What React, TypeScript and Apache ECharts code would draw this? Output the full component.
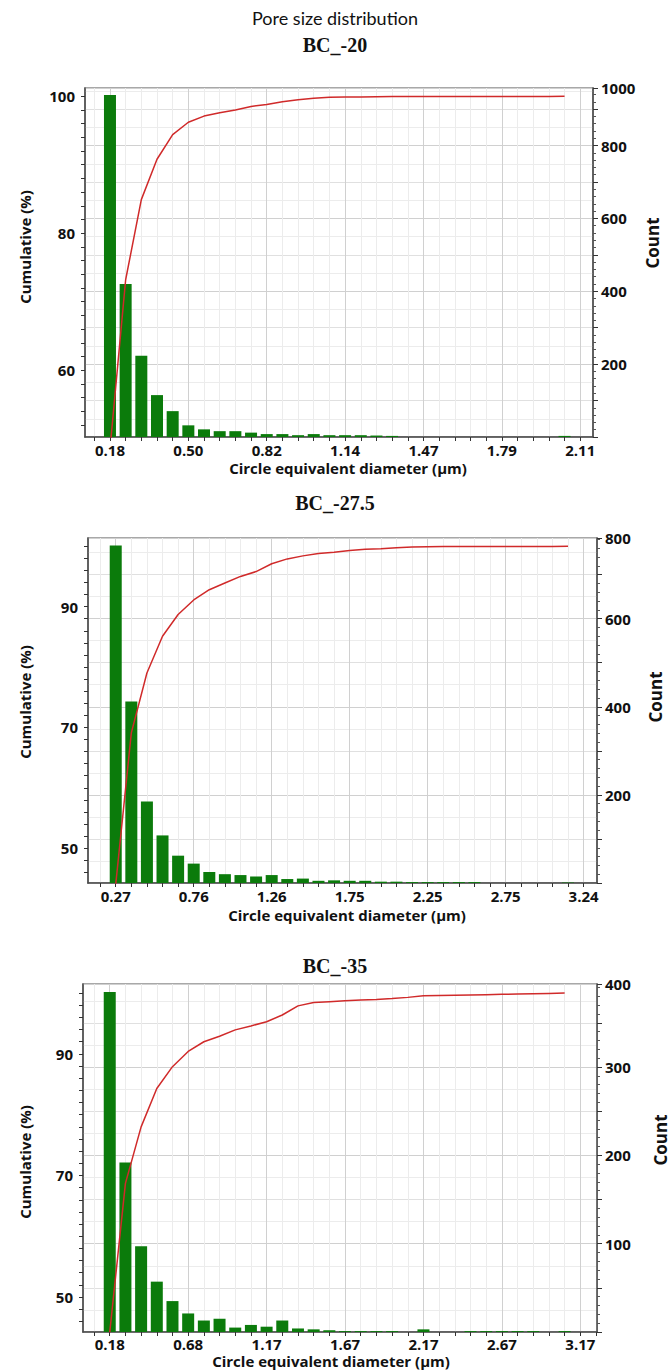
import React, { useEffect, useRef } from "react";
import * as echarts from "echarts";

const mainTitle = "Pore size distribution";
const xAxisTitle = "Circle equivalent diameter (µm)";
const leftAxisTitle = "Cumulative (%)";
const rightAxisTitle = "Count";

// ---- Panel 1: BC_-20 ----
const title1 = "BC_-20";
const xLabels1 = ["0.18", "0.50", "0.82", "1.14", "1.47", "1.79", "2.11"];
const counts1 = [939, 420, 223, 115, 71, 32, 21, 16, 16, 12, 8, 8, 5, 8, 5, 5, 5, 4, 3, 0, 0, 0, 0, 0, 0, 0, 0, 0, 0, 3];
const cumulative1 = [48.5, 73.2, 84.9, 90.8, 94.4, 96.2, 97.1, 97.6, 98.0, 98.5, 98.8, 99.2, 99.5, 99.7, 99.85, 99.88, 99.9, 99.92, 99.95, 99.95, 99.95, 99.95, 99.95, 99.95, 99.95, 99.95, 99.95, 99.95, 99.95, 100];
const leftLabels1 = [60, 80, 100];
const rightLabels1 = [200, 400, 600, 800];
const rightTop1 = "1000";

// ---- Panel 2: BC_-27.5 ----
const title2 = "BC_-27.5";
const xLabels2 = ["0.27", "0.76", "1.26", "1.75", "2.25", "2.75", "3.24"];
const counts2 = [766, 412, 185, 108, 62, 44, 25, 20, 18, 15, 18, 9, 10, 5, 6, 5, 5, 3, 3, 2, 2, 2, 2, 2, 0, 0, 0, 0, 0, 1];
const cumulative2 = [44.0, 69.1, 79.0, 85.1, 88.7, 91.1, 92.8, 93.9, 95.0, 95.8, 97.1, 97.9, 98.4, 98.8, 99.0, 99.3, 99.5, 99.6, 99.75, 99.85, 99.92, 99.95, 99.96, 99.97, 99.97, 99.97, 99.97, 99.97, 99.97, 100];
const leftLabels2 = [50, 70, 90];
const rightLabels2 = [200, 400, 600];
const rightTop2 = "800";

// ---- Panel 3: BC_-35 ----
const title3 = "BC_-35";
const xLabels3 = ["0.18", "0.68", "1.17", "1.67", "2.17", "2.67", "3.17"];
const counts3 = [385, 192, 97, 57, 35, 21, 13, 15, 5, 8, 6, 13, 4, 3, 2, 1, 1, 1, 1, 0, 3, 0, 0, 1, 1, 1, 1, 1, 0, 1];
const cumulative3 = [44.2, 68.7, 78.0, 84.3, 87.9, 90.4, 92.0, 92.9, 93.95, 94.6, 95.3, 96.4, 97.9, 98.45, 98.6, 98.75, 98.85, 98.95, 99.1, 99.3, 99.55, 99.6, 99.65, 99.7, 99.75, 99.8, 99.85, 99.9, 99.95, 100];
const leftLabels3 = [50, 70, 90];
const rightLabels3 = [100, 200, 300];
const rightTop3 = "400";

type Panel = {
  title: string;
  xLabels: string[];
  counts: number[];
  cum: number[];
  leftLabels: number[];
  rightLabels: number[];
  rightTop: string;
  grid: { left: number; top: number; width: number; height: number };
  xMin: number;
  xMax: number;
  lMin: number;
  lMax: number;
  rMax: number;
  rTick: number;
  rGrid: number;
  titleY: number;
  xLabelMargin: number;
  xNameX: number;
  xNameY: number;
  cumY: number;
  countX: number;
  countY: number;
};

const panels: Panel[] = [
  {
    title: title1, xLabels: xLabels1, counts: counts1, cum: cumulative1,
    leftLabels: leftLabels1, rightLabels: rightLabels1, rightTop: rightTop1,
    grid: { left: 85, top: 88, width: 508, height: 349 },
    xMin: 0.0775, xMax: 2.1625, lMin: 50.24, lMax: 101.2, rMax: 958, rTick: 100, rGrid: 50,
    titleY: 45, xLabelMargin: 5, xNameX: 348, xNameY: 468, cumY: 247, countX: 652, countY: 243,
  },
  {
    title: title2, xLabels: xLabels2, counts: counts2, cum: cumulative2,
    leftLabels: leftLabels2, rightLabels: rightLabels2, rightTop: rightTop2,
    grid: { left: 88, top: 538, width: 509, height: 345 },
    xMin: 0.094, xMax: 3.325, lMin: 44.24, lMax: 101.36, rMax: 783, rTick: 100, rGrid: 50,
    titleY: 503, xLabelMargin: 5, xNameX: 347, xNameY: 915, cumY: 702, countX: 655, countY: 697,
  },
  {
    title: title3, xLabels: xLabels3, counts: counts3, cum: cumulative3,
    leftLabels: leftLabels3, rightLabels: rightLabels3, rightTop: rightTop3,
    grid: { left: 83, top: 984, width: 514, height: 348 },
    xMin: 0.0101, xMax: 3.276, lMin: 44.25, lMax: 101.5, rMax: 394, rTick: 50, rGrid: 25,
    titleY: 966, xLabelMargin: 4, xNameX: 331, xNameY: 1361, cumY: 1162, countX: 660, countY: 1140,
  },
];

const FONT = "'Open Sans', 'Noto Sans', sans-serif";
const AXIS_DARK = "#4a4a4a";
const GRID_DARK = "#d0d0d0";
const GRID_LIGHT = "#ececec";

function buildOption() {
  const grids: any[] = [];
  const xAxes: any[] = [];
  const yAxes: any[] = [];
  const series: any[] = [];
  const graphics: any[] = [];

  graphics.push({
    type: "text", x: 335, y: 18,
    style: { text: mainTitle, fontSize: 18, fontFamily: "Lato, 'Noto Sans', sans-serif", fill: "#111", align: "center", verticalAlign: "middle" },
  });

  panels.forEach((p, i) => {
    const first = parseFloat(p.xLabels[0]);
    const last = parseFloat(p.xLabels[p.xLabels.length - 1]);
    const binsPerStep = 5;
    const w = (last - first) / ((p.xLabels.length - 1) * binsPerStep);
    const kMin = Math.ceil((p.xMin - first) / w - 1e-9);
    const kMax = Math.floor((p.xMax - first) / w + 1e-9);
    const tickVals: number[] = [];
    for (let k = kMin; k <= kMax; k++) tickVals.push(+(first + k * w).toFixed(6));
    const vColors: string[] = [];
    for (let j = 0; j < binsPerStep; j++) {
      vColors.push((((kMin + j) % binsPerStep) + binsPerStep) % binsPerStep === 0 ? GRID_DARK : GRID_LIGHT);
    }
    const labelVals = p.xLabels.map((_, j) => +(first + j * binsPerStep * w).toFixed(6));

    grids.push({ ...p.grid, show: true, borderColor: "#8c8c8c", borderWidth: 1.5, backgroundColor: "#ffffff" });

    xAxes.push({
      type: "value",
      gridIndex: i,
      min: p.xMin,
      max: p.xMax,
      axisLine: { show: true, onZero: false, lineStyle: { color: AXIS_DARK, width: 1.5 } },
      axisTick: { show: true, customValues: tickVals, length: 4, lineStyle: { color: "#333" } },
      axisLabel: {
        customValues: labelVals,
        formatter: (v: number) => {
          const j = Math.round((v - first) / (binsPerStep * w));
          return p.xLabels[j] ?? "";
        },
        margin: p.xLabelMargin,
        fontSize: 15,
        fontWeight: "bold",
        color: "#111",
        fontFamily: FONT,
      },
      splitLine: { show: true, lineStyle: { color: vColors, width: 1 } },
    });

    const leftTicks: number[] = [];
    for (let v = Math.ceil(p.lMin / 2) * 2; v <= p.lMax; v += 2) leftTicks.push(v);

    // left cumulative axis
    yAxes.push({
      type: "value",
      gridIndex: i,
      position: "left",
      min: p.lMin,
      max: p.lMax,
      axisLine: { show: true, lineStyle: { color: AXIS_DARK, width: 1.5 } },
      axisTick: { show: true, customValues: leftTicks, length: 4, lineStyle: { color: "#333" } },
      axisLabel: {
        customValues: p.leftLabels,
        margin: 10,
        fontSize: 15,
        fontWeight: "bold",
        color: "#111",
        fontFamily: FONT,
      },
      splitLine: { show: false },
    });

    // right count axis
    yAxes.push({
      type: "value",
      gridIndex: i,
      position: "right",
      min: 0,
      max: p.rMax,
      interval: p.rTick,
      axisLine: { show: true, lineStyle: { color: AXIS_DARK, width: 1.5 } },
      axisTick: { show: true, length: 5, lineStyle: { color: "#333" } },
      minorTick: { show: true, splitNumber: 5, length: 3, lineStyle: { color: "#555" } },
      axisLabel: {
        showMaxLabel: true,
        formatter: (v: number) => {
          if (Math.abs(v - p.rMax) < 1e-6) return p.rightTop;
          return p.rightLabels.indexOf(v) >= 0 ? String(v) : "";
        },
        margin: 8,
        fontSize: 15,
        fontWeight: "bold",
        color: "#111",
        fontFamily: FONT,
      },
      splitLine: { show: false },
    });

    // hidden axis for horizontal grid lines
    yAxes.push({
      type: "value",
      gridIndex: i,
      position: "right",
      min: 0,
      max: p.rMax,
      interval: p.rGrid,
      axisLine: { show: false },
      axisTick: { show: false },
      axisLabel: { show: false },
      splitLine: { show: true, lineStyle: { color: [GRID_DARK, GRID_LIGHT, "#e0e0e0", GRID_LIGHT], width: 1 } },
    });

    series.push({
      type: "bar",
      xAxisIndex: i,
      yAxisIndex: 3 * i + 1,
      data: p.counts.map((c, k) => [first + k * w, c]),
      barWidth: 12,
      itemStyle: { color: "#0b7b0b" },
      z: 2,
    });
    series.push({
      type: "line",
      xAxisIndex: i,
      yAxisIndex: 3 * i,
      data: p.cum.map((c, k) => [first + k * w, c]),
      symbol: "none",
      lineStyle: { color: "#d02a2a", width: 1.5 },
      clip: true,
      z: 3,
    });

    graphics.push({
      type: "text", x: 335, y: p.titleY,
      style: { text: p.title, fontSize: 20, fontWeight: "bold", fontFamily: "'Liberation Serif', 'Times New Roman', serif", fill: "#111", align: "center", verticalAlign: "middle" },
    });
    graphics.push({
      type: "text", x: p.xNameX, y: p.xNameY,
      style: { text: xAxisTitle, fontSize: 15, fontWeight: "bold", fontFamily: FONT, fill: "#111", align: "center", verticalAlign: "middle" },
    });
    graphics.push({
      type: "text", x: 25, y: p.cumY, rotation: Math.PI / 2,
      style: { text: leftAxisTitle, fontSize: 15, fontWeight: "bold", fontFamily: FONT, fill: "#111", align: "center", verticalAlign: "middle" },
    });
    graphics.push({
      type: "text", x: p.countX, y: p.countY, rotation: Math.PI / 2,
      style: { text: rightAxisTitle, fontSize: 17, fontWeight: "bold", fontFamily: FONT, fill: "#111", align: "center", verticalAlign: "middle" },
    });
  });

  return {
    animation: false,
    backgroundColor: "#ffffff",
    grid: grids,
    xAxis: xAxes,
    yAxis: yAxes,
    series,
    graphic: graphics,
  };
}

export default function App() {
  const ref = useRef<HTMLDivElement>(null);
  useEffect(() => {
    document.body.style.margin = "0";
    if (!ref.current) return;
    const chart = echarts.init(ref.current, undefined, { renderer: "svg" });
    chart.setOption(buildOption() as any);
    return () => chart.dispose();
  }, []);
  return <div ref={ref} style={{ width: 670, height: 1370 }} />;
}
